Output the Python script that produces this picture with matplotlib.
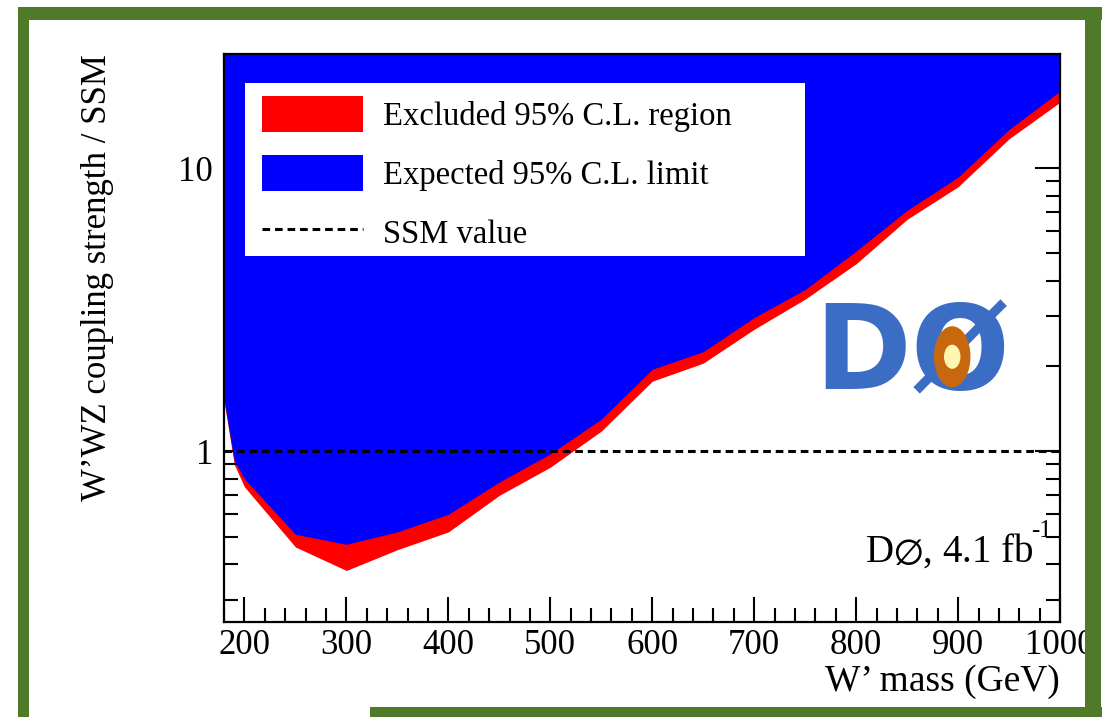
import numpy as np
import matplotlib.pyplot as plt
from matplotlib.patches import Patch, Rectangle, Ellipse
from matplotlib.lines import Line2D
from matplotlib.ticker import FixedLocator, NullFormatter

plt.rcParams['font.family'] = ['Liberation Serif', 'DejaVu Serif']
plt.rcParams['mathtext.fontset'] = 'stix'

# W' mass points (GeV) and limits on coupling / SSM
mass = [180, 190, 200, 250, 300, 350, 400, 450, 500, 550, 600, 650, 700, 750, 800, 850, 900, 950, 1000]
expected = [1.53, 0.93, 0.80, 0.51, 0.47, 0.52, 0.60, 0.78, 0.98, 1.30, 1.95, 2.25, 2.97, 3.73, 5.1, 7.1, 9.3, 13.7, 18.7]
observed = [1.50, 0.90, 0.75, 0.46, 0.38, 0.45, 0.52, 0.70, 0.88, 1.18, 1.77, 2.05, 2.70, 3.45, 4.6, 6.6, 8.6, 12.7, 17.1]
ssm = 1.0
ymin, ymax = 0.25, 25.3

fig = plt.figure(figsize=(11.07, 7.17), dpi=100)
ax = fig.add_axes([0.2024, 0.1325, 0.7552, 0.7922])

ax.fill_between(mass, observed, ymax, color='#ff0000', lw=0, zorder=1)
ax.fill_between(mass, expected, ymax, color='#0000ff', lw=0, zorder=2)
ax.axhline(ssm, color='black', ls=(0, (2.5, 1.6)), lw=2.2, zorder=3)

ax.set_yscale('log')
ax.set_xlim(180, 1000)
ax.set_ylim(ymin, ymax)

ax.xaxis.set_major_locator(FixedLocator(range(200, 1001, 100)))
ax.xaxis.set_minor_locator(FixedLocator(range(180, 1001, 20)))
ax.set_yticks([1, 10])
ax.set_yticklabels(['1', '10'])
ax.yaxis.set_minor_locator(FixedLocator([0.3, 0.4, 0.5, 0.6, 0.7, 0.8, 0.9, 2, 3, 4, 5, 6, 7, 8, 9, 20]))
ax.yaxis.set_minor_formatter(NullFormatter())

ax.tick_params(which='both', direction='in', top=True, right=True, width=1.5, labelsize=25)
ax.tick_params(which='major', length=18)
ax.tick_params(which='minor', length=10)
ax.tick_params(axis='x', which='major', pad=5)
ax.tick_params(axis='y', which='major', pad=8)
for s in ax.spines.values():
    s.set_linewidth(1.6)

ax.set_xlabel('W\u2019 mass (GeV)', fontsize=27, loc='right', labelpad=2)
ax.set_ylabel('W\u2019WZ coupling strength / SSM', fontsize=25, loc='top', labelpad=46)

# white box behind the legend, legend itself drawn frameless inside it
ax.add_patch(Rectangle((0.025, 0.644), 0.67, 0.305, transform=ax.transAxes,
                       color='white', lw=0, zorder=4))
handles = [Patch(color='#ff0000', lw=0), Patch(color='#0000ff', lw=0),
           Line2D([], [], color='black', ls=(0, (2.5, 1.6)), lw=2.2)]
labels = ['Excluded 95% C.L. region', 'Expected 95% C.L. limit', 'SSM value']
leg = ax.legend(handles, labels, loc='upper left', bbox_to_anchor=(0.034, 0.943),
                borderaxespad=0, frameon=False,
                fontsize=23.5, handlelength=3.1, handleheight=1.3, labelspacing=0.72,
                handletextpad=0.6, borderpad=0.3)
leg.set_zorder(5)

ax.text(0.968, 0.125, r'D$\varnothing$, 4.1 fb', transform=ax.transAxes,
        ha='right', va='center', fontsize=28)
ax.text(0.99, 0.16, '-1', transform=ax.transAxes, ha='right', va='center', fontsize=18)

# DØ logo, rough
ax.text(0.823, 0.467, 'DØ', transform=ax.transAxes, ha='center', va='center',
        fontsize=84, fontweight='bold', family='DejaVu Sans', color='#3c6dc5', zorder=4)
ax.add_patch(Ellipse((0.871, 0.467), 0.042, 0.105, transform=ax.transAxes,
                     color='#c8680e', zorder=5))
ax.add_patch(Ellipse((0.871, 0.467), 0.018, 0.04, transform=ax.transAxes,
                     color='#fff6b0', zorder=6))

# green painted frame
green = '#4f7a2a'
for (x0, y0, w, h) in [(18, 697, 1084, 13), (18, 0, 11, 710), (1085, 0, 16, 710), (370, 0, 732, 10)]:
    fig.add_artist(Rectangle((x0 / 1107, y0 / 717), w / 1107, h / 717,
                             transform=fig.transFigure, color=green, lw=0))

fig.savefig('out.png', dpi=100)
